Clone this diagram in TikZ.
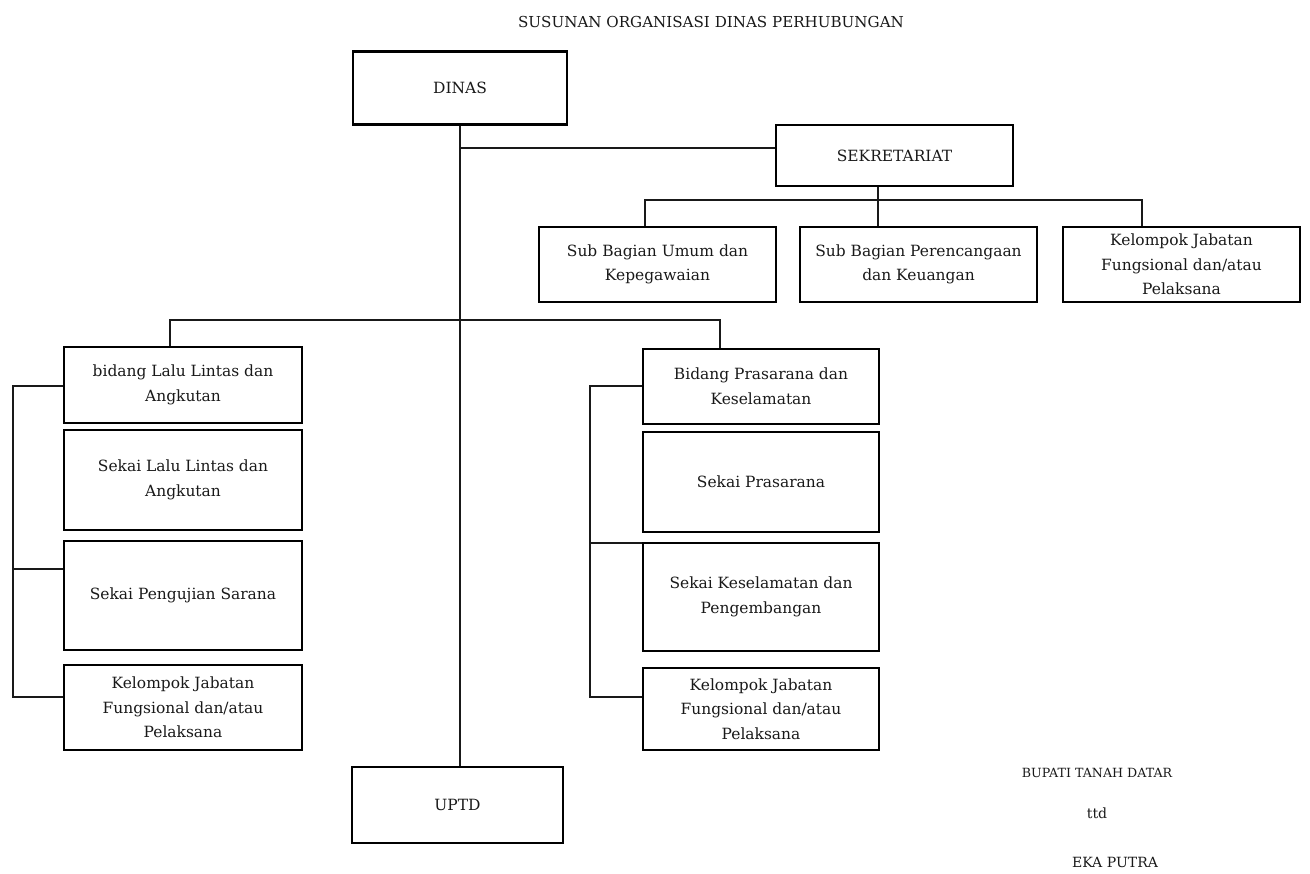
\documentclass[tikz,border=0pt]{standalone}
\usepackage{fontspec}
\setmainfont{DejaVu Serif}
\usepackage{tikz}
\usetikzlibrary{positioning}
\tikzstyle{unit} = [rectangle, draw=black, line width=1.3pt, text=black!90, align=center, inner sep=2pt, font=\fontsize{8.8}{14}\selectfont]
\tikzstyle{link} = [draw=black!90, line width=0.8pt]
\tikzstyle{label} = [text=black!90, font=\fontsize{8}{10}\selectfont]

\begin{document}
\begin{tikzpicture}[x=0.02cm, y=-0.02cm]
 \useasboundingbox (0,0) rectangle (1310,874);
 \node (title) [label, font=\fontsize{8.6}{10}\selectfont] at (711,22) {SUSUNAN ORGANISASI DINAS PERHUBUNGAN};

 % top level
 \node (dinas) [unit, minimum width=4.28cm, minimum height=1.46cm] at (460,88) {DINAS};
 \node (sekretariat) [unit, minimum width=4.74cm, minimum height=1.22cm] at (894.5,155.5) {SEKRETARIAT};
 \node (uptd) [unit, minimum width=4.22cm, minimum height=1.52cm] at (457.5,805) {UPTD};

 % sub bagian
 \node (subumum) [unit, minimum width=4.74cm, minimum height=1.5cm] at (657.5,264.5) {Sub Bagian Umum dan\\Kepegawaian};
 \node (subrencana) [unit, minimum width=4.74cm, minimum height=1.5cm] at (918.5,264.5) {Sub Bagian Perencangaan\\dan Keuangan};
 \node (subjabatan) [unit, minimum width=4.74cm, minimum height=1.5cm] at (1181.5,264.5) {Kelompok Jabatan\\Fungsional dan/atau\\Pelaksana};

 % bidang lalu lintas
 \node (bidlalu) [unit, minimum width=4.76cm, minimum height=1.52cm] at (183,385) {bidang Lalu Lintas dan\\Angkutan};
 \node (seklalu) [unit, minimum width=4.76cm, minimum height=2.0cm] at (183,480) {Sekai Lalu Lintas dan\\Angkutan};
 \node (sekuji) [unit, minimum width=4.76cm, minimum height=2.18cm] at (183,595.5) {Sekai Pengujian Sarana};
 \node (jablalu) [unit, minimum width=4.76cm, minimum height=1.7cm] at (183,707.5) {Kelompok Jabatan\\Fungsional dan/atau\\Pelaksana};

 % bidang prasarana
 \node (bidpras) [unit, minimum width=4.72cm, minimum height=1.5cm] at (761,386.5) {Bidang Prasarana dan\\Keselamatan};
 \node (sekpras) [unit, minimum width=4.72cm, minimum height=2.0cm] at (761,482) {Sekai Prasarana};
 \node (sekselamat) [unit, minimum width=4.72cm, minimum height=2.16cm] at (761,597) {Sekai Keselamatan dan\\Pengembangan};
 \node (jabpras) [unit, minimum width=4.72cm, minimum height=1.64cm] at (761,709) {Kelompok Jabatan\\Fungsional dan/atau\\Pelaksana};

 % signature
 \node (bupati) [label, font=\fontsize{7.2}{10}\selectfont] at (1097,773) {BUPATI TANAH DATAR};
 \node (ttd) [label, below=0.8cm of bupati.center, anchor=center] {ttd};
 \node (nama) [label] at (1115,862) {EKA PUTRA};

 % connectors
 \coordinate (jsek) at (460,148);
 \coordinate (sekbus) at (878,200);
 \coordinate (bidbus) at (170,320);
 \coordinate (lbrack) at (13,386);
 \coordinate (rbrack) at (590,386);

 \draw [link] (dinas.south) -- (dinas.south |- uptd.north);
 \draw [link] (jsek) -- (jsek -| sekretariat.west);
 \draw [link] (sekbus |- sekretariat.south) -- (sekbus);
 \draw [link] (subumum.north -| 645,0) -- (645,200) -- (1142,200) -- (subjabatan.north -| 1142,0);
 \draw [link] (sekbus) -- (subrencana.north -| sekbus);
 \draw [link] (bidlalu.north -| bidbus) -- (bidbus) -- (720,320) -- (bidpras.north -| 720,0);

 \draw [link] (lbrack -| bidlalu.west) -- (lbrack) -- (13,697) -- (13,697 -| jablalu.west);
 \draw [link] (13,569) -- (13,569 -| sekuji.west);
 \draw [link] (rbrack -| bidpras.west) -- (rbrack) -- (590,697) -- (590,697 -| jabpras.west);
 \draw [link] (590,543) -- (590,543 -| sekselamat.west);
\end{tikzpicture}
\end{document}
